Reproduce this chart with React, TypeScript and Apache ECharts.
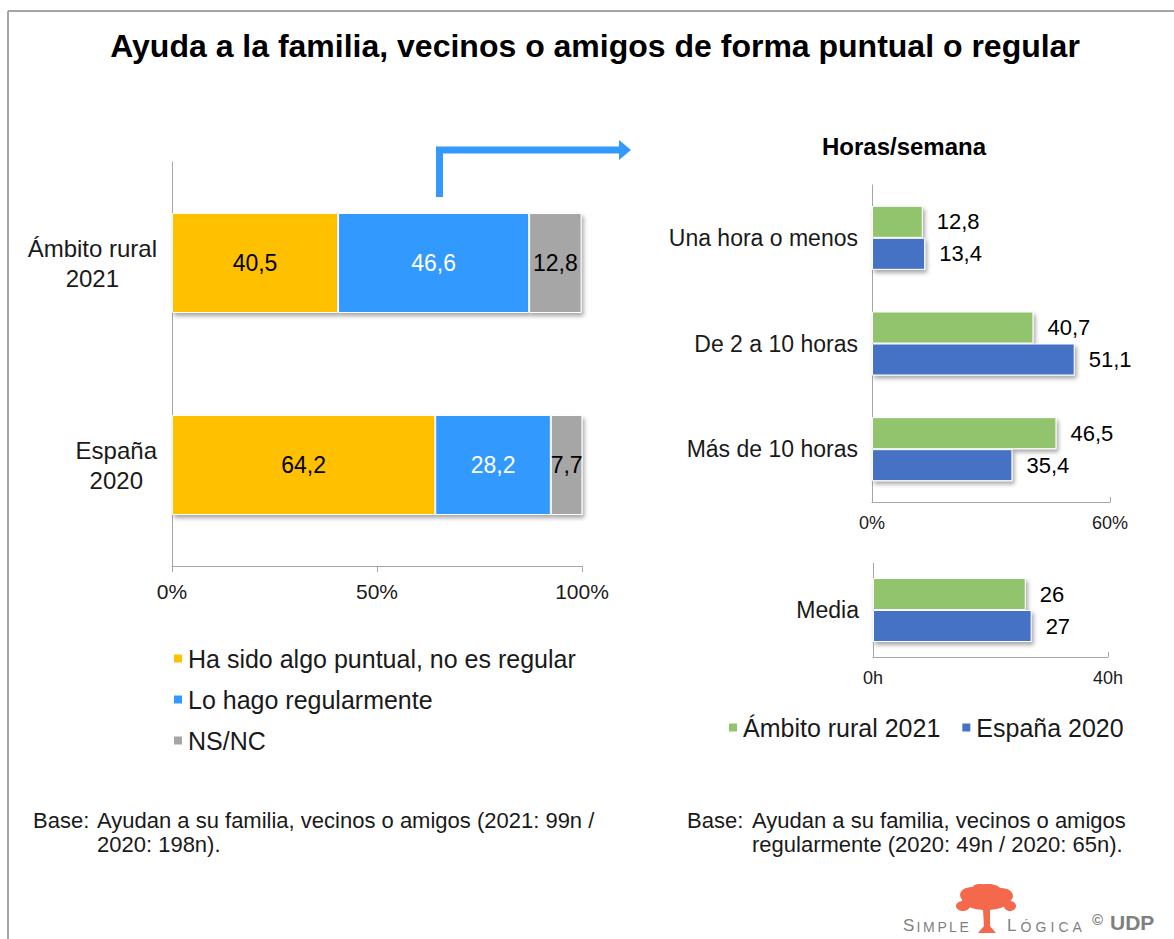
import React, { useEffect, useRef } from "react";
import * as echarts from "echarts";

const FONT = "Liberation Sans, Arial, sans-serif";

const titleText = "Ayuda a la familia, vecinos o amigos de forma puntual o regular";
const subTitleText = "Horas/semana";

// Left stacked chart
const leftCategories = ["Ámbito rural\n2021", "España\n2020"];
const leftSeriesNames = ["Ha sido algo puntual, no es regular", "Lo hago regularmente", "NS/NC"];
const puntual = [40.5, 64.2];
const regular = [46.6, 28.2];
const nsnc = [12.8, 7.7];
const leftTicks = { min: 0, max: 100, interval: 50 };

// Right: hours per week
const horasCategories = ["Una hora o menos", "De 2 a 10 horas", "Más de 10 horas"];
const rightSeriesNames = ["Ámbito rural 2021", "España 2020"];
const rural2021 = [12.8, 40.7, 46.5];
const espana2020 = [13.4, 51.1, 35.4];
const horasTicks = { min: 0, max: 60, interval: 60 };

// Right: mean hours
const mediaCategories = ["Media"];
const mediaRural = [26];
const mediaEspana = [27];
const mediaTicks = { min: 0, max: 40, interval: 40 };

const noteLeft1 = "Base:";
const noteLeft2 = "Ayudan a su familia, vecinos o amigos (2021: 99n /\n2020: 198n).";
const noteRight1 = "Base:";
const noteRight2 = "Ayudan a su familia, vecinos o amigos\nregularmente (2020: 49n / 2020: 65n).";

const YELLOW = "#FFC000";
const LBLUE = "#3399FF";
const GRAY = "#A6A6A6";
const GREEN = "#92C46E";
const DBLUE = "#4472C4";
const AXIS = "#A6A6A6";
const LOGO = "#F4694C";

const fmt = (v: number) => String(v).replace(".", ",");

const shadow = {
  shadowColor: "rgba(0,0,0,0.35)",
  shadowBlur: 4,
  shadowOffsetX: 2,
  shadowOffsetY: 3,
};

function spacedLetters(
  letters: { ch: string; size: number; w: number }[],
  x0: number,
  baseline: number,
  gap: number,
  color: string
) {
  const out: any[] = [];
  let x = x0;
  letters.forEach((l) => {
    out.push({
      type: "text",
      x,
      y: baseline,
      style: {
        text: l.ch,
        fontSize: l.size,
        fontFamily: FONT,
        fill: color,
        textVerticalAlign: "bottom",
      },
    });
    x += l.w + gap;
  });
  return out;
}

const blob = (cx: number, cy: number, rx: number, ry: number) => ({
  type: "ellipse",
  shape: { cx, cy, rx, ry },
  style: { fill: LOGO },
});

export default function App() {
  const ref = useRef<HTMLDivElement>(null);

  useEffect(() => {
    if (!ref.current) return;
    const chart = echarts.init(ref.current, undefined, { renderer: "svg" });

    const catLabel = (v: string) =>
      v
        .split("\n")
        .map((l) => `{c|${l}}`)
        .join("\n");

    const barLabelRight = {
      show: true,
      position: "right",
      distance: 14,
      fontSize: 22,
      color: "#000",
      formatter: (p: any) => fmt(p.value),
    };

    const noteStyle = { fontSize: 22, lineHeight: 24, fontFamily: FONT, fill: "#1a1a1a" };

    const option: any = {
      animation: false,
      textStyle: { fontFamily: FONT },
      title: [
        {
          text: titleText,
          left: 595,
          top: 30,
          padding: 0,
          textAlign: "center",
          textStyle: { fontSize: 32, fontWeight: "bold", color: "#000", fontFamily: FONT },
        },
        {
          text: subTitleText,
          left: 904,
          top: 134,
          padding: 0,
          textAlign: "center",
          textStyle: { fontSize: 24, fontWeight: "bold", color: "#000", fontFamily: FONT },
        },
      ],
      legend: [
        {
          data: leftSeriesNames,
          orient: "vertical",
          left: 172,
          top: 646,
          padding: 0,
          itemWidth: 10,
          itemHeight: 10,
          itemGap: 16,
          icon: "rect",
          textStyle: { fontSize: 25, color: "#1a1a1a", fontFamily: FONT },
        },
        {
          data: rightSeriesNames,
          orient: "horizontal",
          left: 727,
          top: 715,
          padding: 0,
          itemWidth: 10,
          itemHeight: 10,
          itemGap: 20,
          icon: "rect",
          textStyle: { fontSize: 25, color: "#1a1a1a", fontFamily: FONT },
        },
      ],
      grid: [
        { left: 172, top: 162, width: 410, height: 404, containLabel: false },
        { left: 872, top: 185, width: 238, height: 317, containLabel: false },
        { left: 873, top: 563, width: 235, height: 94, containLabel: false },
      ],
      xAxis: [
        {
          gridIndex: 0,
          type: "value",
          ...leftTicks,
          splitLine: { show: false },
          axisLine: { show: true, lineStyle: { color: AXIS } },
          axisTick: { show: true, length: 6, lineStyle: { color: AXIS } },
          axisLabel: { formatter: "{value}%", fontSize: 21, color: "#1a1a1a", margin: 15 },
        },
        {
          gridIndex: 1,
          type: "value",
          ...horasTicks,
          splitLine: { show: false },
          axisLine: { show: true, lineStyle: { color: AXIS } },
          axisTick: { show: true, inside: true, length: 5, lineStyle: { color: AXIS } },
          axisLabel: { formatter: "{value}%", fontSize: 18, color: "#1a1a1a", margin: 12 },
        },
        {
          gridIndex: 2,
          type: "value",
          ...mediaTicks,
          splitLine: { show: false },
          axisLine: { show: true, lineStyle: { color: AXIS } },
          axisTick: { show: true, inside: true, length: 5, lineStyle: { color: AXIS } },
          axisLabel: { formatter: "{value}h", fontSize: 18, color: "#1a1a1a", margin: 12 },
        },
      ],
      yAxis: [
        {
          gridIndex: 0,
          type: "category",
          data: leftCategories,
          inverse: true,
          axisLine: { show: true, lineStyle: { color: AXIS } },
          axisTick: { show: false },
          axisLabel: {
            margin: 15,
            formatter: catLabel,
            rich: { c: { align: "center", fontSize: 24, lineHeight: 30, color: "#1a1a1a", fontFamily: FONT } },
          },
        },
        {
          gridIndex: 1,
          type: "category",
          data: horasCategories,
          inverse: true,
          axisLine: { show: true, lineStyle: { color: AXIS } },
          axisTick: { show: false },
          axisLabel: { margin: 14, fontSize: 23, color: "#1a1a1a" },
        },
        {
          gridIndex: 2,
          type: "category",
          data: mediaCategories,
          inverse: true,
          axisLine: { show: true, lineStyle: { color: AXIS } },
          axisTick: { show: false },
          axisLabel: { margin: 14, fontSize: 23, color: "#1a1a1a" },
        },
      ],
      series: [
        {
          name: leftSeriesNames[0],
          type: "bar",
          stack: "total",
          xAxisIndex: 0,
          yAxisIndex: 0,
          data: puntual,
          barWidth: 100,
          itemStyle: { color: YELLOW, borderColor: "#fff", borderWidth: 1, ...shadow },
          label: { show: true, position: "inside", fontSize: 23, color: "#000", formatter: (p: any) => fmt(p.value) },
        },
        {
          name: leftSeriesNames[1],
          type: "bar",
          stack: "total",
          xAxisIndex: 0,
          yAxisIndex: 0,
          data: regular,
          barWidth: 100,
          itemStyle: { color: LBLUE, borderColor: "#fff", borderWidth: 1, ...shadow },
          label: { show: true, position: "inside", fontSize: 23, color: "#fff", formatter: (p: any) => fmt(p.value) },
        },
        {
          name: leftSeriesNames[2],
          type: "bar",
          stack: "total",
          xAxisIndex: 0,
          yAxisIndex: 0,
          data: nsnc,
          barWidth: 100,
          itemStyle: { color: GRAY, borderColor: "#fff", borderWidth: 1, ...shadow },
          label: { show: true, position: "inside", fontSize: 23, color: "#000", formatter: (p: any) => fmt(p.value) },
        },
        {
          name: rightSeriesNames[0],
          type: "bar",
          xAxisIndex: 1,
          yAxisIndex: 1,
          data: rural2021,
          barWidth: 32,
          barGap: "0%",
          itemStyle: { color: GREEN, borderColor: "#fff", borderWidth: 1, ...shadow },
          label: barLabelRight,
        },
        {
          name: rightSeriesNames[1],
          type: "bar",
          xAxisIndex: 1,
          yAxisIndex: 1,
          data: espana2020,
          barWidth: 32,
          barGap: "0%",
          itemStyle: { color: DBLUE, borderColor: "#fff", borderWidth: 1, ...shadow },
          label: barLabelRight,
        },
        {
          name: rightSeriesNames[0],
          type: "bar",
          xAxisIndex: 2,
          yAxisIndex: 2,
          data: mediaRural,
          barWidth: 32,
          barGap: "0%",
          itemStyle: { color: GREEN, borderColor: "#fff", borderWidth: 1, ...shadow },
          label: barLabelRight,
        },
        {
          name: rightSeriesNames[1],
          type: "bar",
          xAxisIndex: 2,
          yAxisIndex: 2,
          data: mediaEspana,
          barWidth: 32,
          barGap: "0%",
          itemStyle: { color: DBLUE, borderColor: "#fff", borderWidth: 1, ...shadow },
          label: barLabelRight,
        },
      ],
      graphic: [
        // frame
        { type: "line", shape: { x1: 8, y1: 11, x2: 1174, y2: 11 }, style: { stroke: "#A6A6A6", lineWidth: 2 } },
        { type: "line", shape: { x1: 8, y1: 11, x2: 8, y2: 939 }, style: { stroke: "#A6A6A6", lineWidth: 2 } },
        // arrow
        {
          type: "polyline",
          shape: { points: [[439.5, 197], [439.5, 150], [621, 150]] },
          style: { stroke: LBLUE, lineWidth: 7, fill: "none", lineJoin: "miter", lineCap: "butt" },
        },
        { type: "polygon", shape: { points: [[619, 140], [631, 150], [619, 160]] }, style: { fill: LBLUE } },
        // notes
        { type: "text", x: 33, y: 808, style: { text: noteLeft1, ...noteStyle } },
        { type: "text", x: 97, y: 808, style: { text: noteLeft2, ...noteStyle } },
        { type: "text", x: 687, y: 808, style: { text: noteRight1, ...noteStyle } },
        { type: "text", x: 752, y: 808, style: { text: noteRight2, ...noteStyle } },
        // logo tree
        blob(986, 900, 24, 10),
        blob(972, 895, 12, 8),
        blob(988, 890, 13, 6),
        blob(1001, 896, 12, 8),
        blob(963, 906, 7, 5),
        blob(1010, 906, 6, 5),
        blob(980, 887, 7, 3),
        {
          type: "polygon",
          shape: {
            points: [
              [976, 906], [983, 910], [984, 926], [978, 933], [996, 933], [990, 926], [990, 910], [997, 906],
            ],
          },
          style: { fill: LOGO },
        },
        ...spacedLetters(
          [
            { ch: "S", size: 17, w: 11 },
            { ch: "I", size: 14, w: 4 },
            { ch: "M", size: 14, w: 12 },
            { ch: "P", size: 14, w: 9 },
            { ch: "L", size: 14, w: 8 },
            { ch: "E", size: 14, w: 9 },
          ],
          903,
          934,
          2.5,
          "#7F7F7F"
        ),
        ...spacedLetters(
          [
            { ch: "L", size: 17, w: 9.5 },
            { ch: "Ó", size: 14, w: 11 },
            { ch: "G", size: 14, w: 11 },
            { ch: "I", size: 14, w: 4 },
            { ch: "C", size: 14, w: 10 },
            { ch: "A", size: 14, w: 9 },
          ],
          1007,
          934,
          4,
          "#7F7F7F"
        ),
        {
          type: "text",
          x: 1092,
          y: 927,
          style: { text: "©", fontSize: 15, fontWeight: "bold", fontFamily: FONT, fill: "#7F7F7F", textVerticalAlign: "bottom" },
        },
        {
          type: "text",
          x: 1110,
          y: 933,
          style: { text: "UDP", fontSize: 21, fontWeight: "bold", fontFamily: FONT, fill: "#7F7F7F", textVerticalAlign: "bottom" },
        },
      ],
    };

    chart.setOption(option);
    return () => chart.dispose();
  }, []);

  return (
    <div
      ref={ref}
      style={{ position: "absolute", left: 0, top: 0, width: 1174, height: 939, background: "#fff" }}
    />
  );
}
